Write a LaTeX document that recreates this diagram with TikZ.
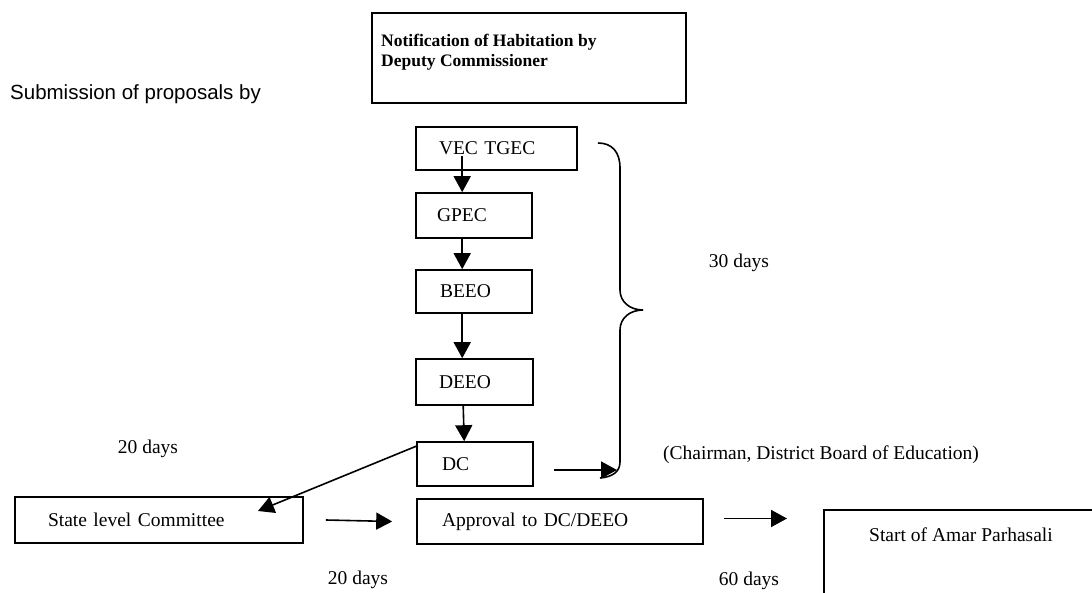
\documentclass[tikz,border=0pt]{standalone}
\usepackage{fontspec}
\setmainfont{Liberation Serif}
\newfontfamily\arialfont{Liberation Sans}
\usetikzlibrary{arrows.meta}
\begin{document}
\begin{tikzpicture}[x=1pt,y=-1pt,
  box/.style={draw, line width=1.6pt, inner ysep=0pt, minimum height=#1, align=left, font=\fontsize{19.5}{22}\selectfont},
  box/.default=44pt,
  lbl/.style={font=\fontsize{19.5}{22}\selectfont, inner sep=0pt},
  arr/.style={line width=1.6pt, -{Triangle[length=16pt,width=17pt]}},
  ln/.style={line width=1.6pt}]
\useasboundingbox (0,0) rectangle (1092,593);
\clip (0,0) rectangle (1092,593);
% top box
\node[draw, line width=1.8pt, minimum width=314pt, minimum height=90pt, inner sep=0pt] (notif) at (529,58) {};
\node[font=\bfseries\fontsize{17.5}{20}\selectfont, align=left, anchor=north west, inner sep=0pt] (notiftxt) at (381,34) {Notification of Habitation by\\Deputy Commissioner};
\node[font=\arialfont\fontsize{20.5}{24}\selectfont, anchor=base west, inner sep=0pt] (submit) at (10,100) {Submission of proposals by};
% chain
\node[box=43pt, inner xsep=23pt, text width=115pt] (vec) at (496.5,148.5) {VEC TGEC};
\node[box=45pt, inner xsep=21pt, text width=74pt] (gpec) at (474,215.5) {GPEC};
\node[box=43pt, inner xsep=24pt, text width=68pt] (beeo) at (474,291.5) {BEEO};
\node[box=46pt, inner xsep=23pt, text width=71pt] (deeo) at (474.5,382) {DEEO};
\node[box=44pt, inner xsep=25pt, text width=66pt] (dc) at (475,464) {DC};
\node[box=46pt, inner xsep=33pt, text width=222pt] (state) at (159,520) {State level Committee};
\node[box=45pt, inner xsep=25pt, text width=236pt] (appr) at (560,521.5) {Approval to DC/DEEO};
\node[draw, line width=1.6pt, minimum width=300pt, minimum height=110pt, anchor=north west, inner sep=0pt] (start) at (823,509) {};
\node[lbl] (starttxt) at (961,535) {Start of Amar Parhasali};
% vertical arrows
\draw[arr] ([xshift=47pt,yshift=15pt]vec.south west) -- ([xshift=47pt]gpec.north west);
\draw[arr] ([xshift=47pt]gpec.south west) -- ([xshift=47pt]beeo.north west);
\draw[arr] ([xshift=47pt]beeo.south west) -- ([xshift=47pt]deeo.north west);
\draw[arr] ([xshift=48pt]deeo.south west) -- ([xshift=48pt]dc.north west);
% DC to state
\coordinate (statetip) at (258,511);
\draw[arr] ([yshift=-5pt]dc.north west) -- (statetip);
% horizontal arrows
\draw[arr] ([xshift=22pt]state.east) -- ([xshift=-24pt]appr.west);
\draw[arr] ([xshift=20pt,yshift=3pt]appr.east) -- ([xshift=-36pt,yshift=3pt]appr.east -| start.west);
% brace
\draw[ln] (598,143) .. controls (612,143) and (620,152) .. (620,168) -- (620,290)
  .. controls (620,302) and (630,310) .. (643,310)
  .. controls (630,310) and (620,318) .. (620,330) -- (620,462)
  .. controls (620,472) and (612,477) .. (600,478);
\coordinate (bracetip) at (617,470);
\draw[arr] ([xshift=20pt,yshift=-6pt]dc.east) -- (bracetip);
% labels
\node[lbl] (d30) at (739,263) {30 days};
\node[lbl] (d20a) at (148,449) {20 days};
\node[lbl] (d20b) at (358,580) {20 days};
\node[lbl] (d60) at (749,581) {60 days};
\node[lbl, anchor=west] (chair) at (663,455) {(Chairman, District Board of Education)};
\end{tikzpicture}
\end{document}
